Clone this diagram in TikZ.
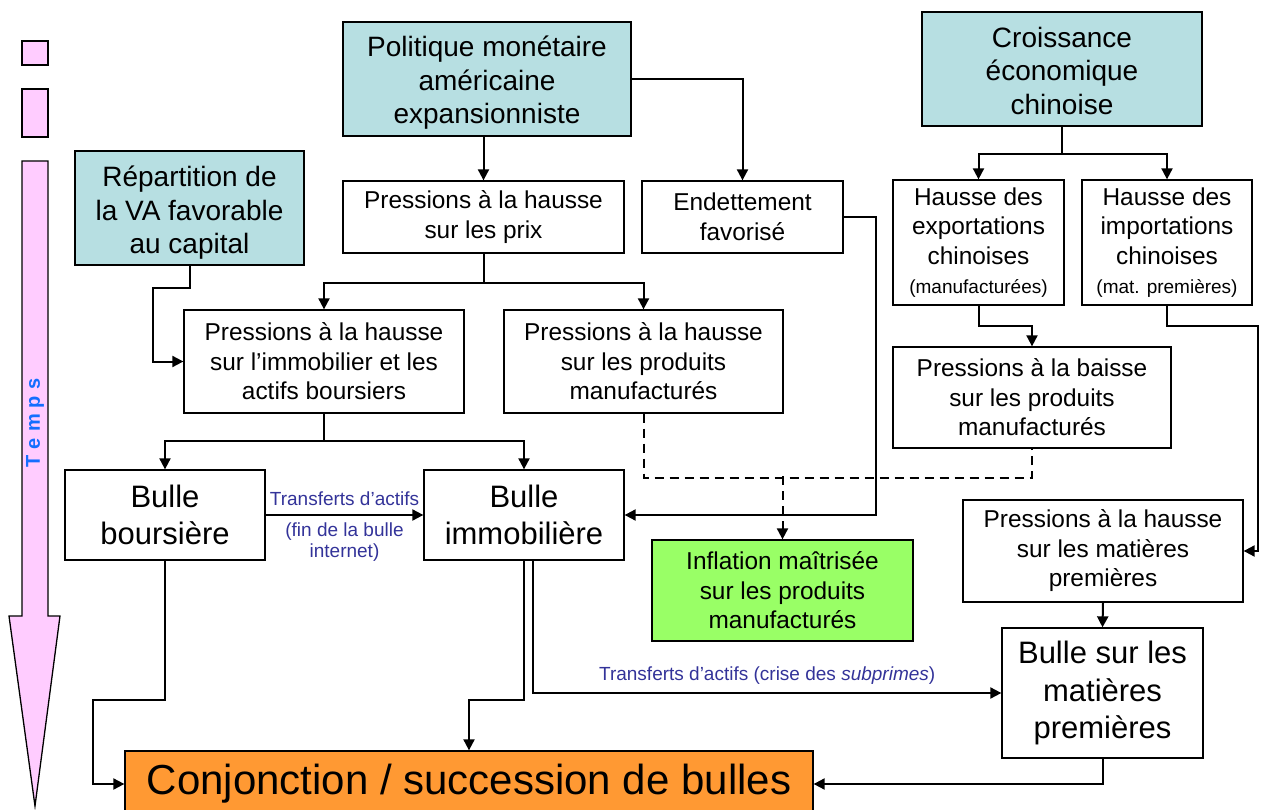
\documentclass[tikz,border=0pt]{standalone}
\usepackage{fontspec}
\setmainfont{Liberation Sans}
\usetikzlibrary{arrows.meta}
\definecolor{tealbox}{RGB}{183,223,226}
\definecolor{greenbox}{RGB}{153,255,102}
\definecolor{orangebox}{RGB}{255,153,51}
\definecolor{pinkbar}{RGB}{255,204,255}
\definecolor{labblue}{RGB}{51,51,153}
\definecolor{timeblue}{RGB}{20,110,255}
\begin{document}
\begin{tikzpicture}[x=1pt,y=-1pt,
  box/.style={draw, line width=1.3pt, rectangle, inner sep=0pt, align=center, font=\fontsize{24.4}{29.5}\selectfont},
  topbox/.style={box, fill=tealbox, font=\fontsize{28}{33.5}\selectfont},
  big/.style={box, font=\fontsize{31}{37.5}\selectfont},
  conn/.style={line width=2pt},
  arr/.style={conn, -{Triangle[length=11pt,width=11pt]}},
  dsh/.style={line width=2pt, dash pattern=on 9pt off 6pt},
  lab/.style={text=labblue, font=\fontsize{19}{22}\selectfont, inner sep=0pt, align=center},
]
\useasboundingbox (0,0) rectangle (1261,810);

% time bar
\draw[line width=1.3pt, fill=pinkbar] (22,41) rectangle (48,65);
\draw[line width=1.3pt, fill=pinkbar] (22,89) rectangle (48,137);
\draw[line width=1.3pt, fill=pinkbar] (22,161) -- (48,161) -- (48,616) -- (60,616) -- (35,806) -- (9,616) -- (22,616) -- cycle;
\node[rotate=90, text=timeblue, font=\fontsize{20}{22}\selectfont\bfseries, inner sep=0pt] (temps) at (35,423) {T\hspace{6pt}e\hspace{6pt}m\hspace{6pt}p\hspace{6pt}s};

% boxes
\node[topbox, minimum width=288pt, minimum height=114pt] (pol) at (487,79) {\rule{0pt}{28pt}Politique monétaire\\américaine\\expansionniste};
\node[topbox, minimum width=280pt, minimum height=114pt] (cro) at (1062,69) {\rule{0pt}{24pt}Croissance\\économique\\chinoise};
\node[topbox, minimum width=229pt, minimum height=114pt] (rep) at (189.5,208) {\rule{0pt}{30pt}Répartition de\\la VA favorable\\au capital};
\node[box, minimum width=281pt, minimum height=72pt] (prix) at (483.5,217) {Pressions à la hausse\\sur les prix};
\node[box, minimum width=201pt, minimum height=72pt] (end) at (742.5,217) {Endettement\\favorisé};
\node[box, minimum width=171pt, minimum height=125pt] (exp) at (978.5,242.5) {Hausse des\\exportations\\chinoises\\{\fontsize{19}{27}\selectfont (manufacturées)}};
\node[box, minimum width=170pt, minimum height=125pt] (imp) at (1167,242.5) {Hausse des\\importations\\chinoises\\{\fontsize{19}{27}\selectfont (mat. premières)}};
\node[box, minimum width=280pt, minimum height=103pt] (immo) at (324,361.5) {Pressions à la hausse\\sur l’immobilier et les\\actifs boursiers};
\node[box, minimum width=279pt, minimum height=103pt] (manu) at (643.5,361.5) {Pressions à la hausse\\sur les produits\\manufacturés};
\node[box, minimum width=278pt, minimum height=101pt] (baisse) at (1032,397.5) {Pressions à la baisse\\sur les produits\\manufacturés};
\node[big, minimum width=200pt, minimum height=90pt] (bb) at (165,515) {Bulle\\boursière};
\node[big, minimum width=200pt, minimum height=90pt] (bi) at (524,515) {Bulle\\immobilière};
\node[box, fill=greenbox, minimum width=261pt, minimum height=101pt] (infl) at (782.5,590.5) {Inflation maîtrisée\\sur les produits\\manufacturés};
\node[box, minimum width=280pt, minimum height=102pt] (pmp) at (1103,551) {Pressions à la hausse\\sur les matières\\premières};
\node[big, minimum width=201pt, minimum height=130pt] (bmp) at (1102.5,693) {Bulle sur les\\matières\\premières};
\node[box, fill=orangebox, minimum width=688pt, minimum height=66pt, font=\fontsize{42}{48}\selectfont] (conj) at (469,784) {Conjonction / succession de bulles};

% connectors
\draw[arr] (prix.north |- pol.south) -- (prix.north);
\draw[arr] (pol.east) -| (end.north);
\draw[conn] (cro.south) -- ++(0,27) coordinate (cj);
\draw[arr] (cj) -| (exp.north);
\draw[arr] (cj) -| (imp.north);
\draw[conn] (prix.south) -- ++(0,29) coordinate (pj);
\draw[arr] (pj) -| (immo.north);
\draw[arr] (pj) -| (manu.north);
\draw[arr] (rep.south) -- ++(0,22) -- ++(-37,0) |- (immo.west);
\draw[conn] (immo.south) -- ++(0,27) coordinate (ij);
\draw[arr] (ij) -| (bb.north);
\draw[arr] (ij) -| (bi.north);
\draw[arr] (bb.east) -- (bi.west)
  node[lab, pos=0.5, above=8pt] (l1) {Transferts d’actifs}
  node[lab, pos=0.5, below=7pt, font=\fontsize{19}{21}\selectfont] (l2) {(fin de la bulle\\internet)};
\draw[arr] (end.east) -- ++(32,0) |- (bi.east);
\draw[dsh] (manu.south) -- ++(0,64) -| (baisse.south);
\draw[dsh, -{Triangle[length=11pt,width=11pt]}] (infl.north) ++(0,-63) -- (infl.north);
\draw[arr] (exp.south) -- ++(0,20) -| (baisse.north);
\draw[arr] (imp.south) -- ++(0,20) -- ++(91,0) |- (pmp.east);
\draw[arr] (pmp.south) -- (bmp.north);
\draw[arr] (bmp.south) |- (conj.east);
\draw[arr] (bb.south) -- ++(0,139) -- ++(-72,0) |- (conj.west);
\draw[arr] (bi.south) -- ++(0,139) -| (conj.north);
\draw[arr] ([xshift=9pt]bi.south) |- (bmp.west)
  node[lab, pos=0.75, above=8pt] (l3) {Transferts d’actifs (crise des \textit{subprimes})};
\end{tikzpicture}
\end{document}
